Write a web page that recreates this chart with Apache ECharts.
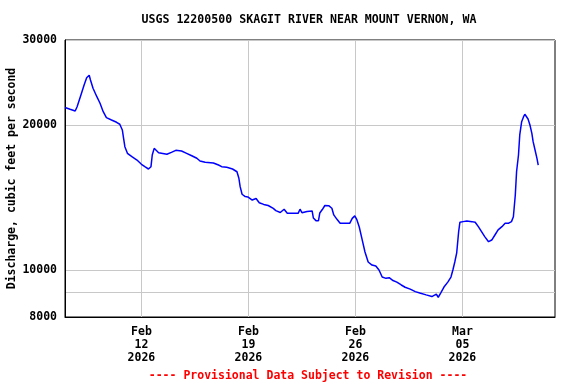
<!DOCTYPE html>
<html>
<head>
<meta charset="utf-8">
<script src="https://cdn.jsdelivr.net/npm/echarts@6/dist/echarts.min.js"></script>
<style>
html,body{margin:0;padding:0;background:#fff;}
#chart{width:576px;height:384px;}
</style>
</head>
<body>
<div id="chart"></div>
<script>
// ---- data ----
var times = [
 '2026-02-07 00:00','2026-02-07 08:00','2026-02-07 16:00','2026-02-07 19:00','2026-02-08 01:00',
 '2026-02-08 06:00','2026-02-08 10:00','2026-02-08 14:00','2026-02-08 16:00','2026-02-08 20:00',
 '2026-02-09 02:00','2026-02-09 07:00','2026-02-09 12:00','2026-02-09 17:00','2026-02-10 01:00',
 '2026-02-10 09:00','2026-02-10 14:00','2026-02-10 18:00','2026-02-10 20:00','2026-02-10 22:00',
 '2026-02-11 02:00','2026-02-11 09:00','2026-02-11 17:00','2026-02-12 00:00','2026-02-12 06:00',
 '2026-02-12 11:00','2026-02-12 15:00','2026-02-12 17:00','2026-02-12 20:00','2026-02-12 23:00',
 '2026-02-13 03:00','2026-02-13 06:00','2026-02-13 16:00','2026-02-13 23:00','2026-02-14 06:00',
 '2026-02-14 15:00','2026-02-14 23:00','2026-02-15 07:00','2026-02-15 15:00','2026-02-15 20:00',
 '2026-02-16 04:00','2026-02-16 17:00','2026-02-17 01:00','2026-02-17 06:00','2026-02-17 14:00',
 '2026-02-17 23:00','2026-02-18 06:00','2026-02-18 09:00','2026-02-18 11:00','2026-02-18 14:00',
 '2026-02-18 19:00','2026-02-18 23:00','2026-02-19 06:00','2026-02-19 12:00','2026-02-19 17:00',
 '2026-02-20 00:00','2026-02-20 07:00','2026-02-20 10:00','2026-02-20 15:00','2026-02-20 19:00',
 '2026-02-21 02:00','2026-02-21 08:00','2026-02-21 13:00','2026-02-22 06:00','2026-02-22 09:00',
 '2026-02-22 12:00','2026-02-22 20:00','2026-02-23 04:00','2026-02-23 06:00','2026-02-23 10:00',
 '2026-02-23 14:00','2026-02-23 16:00','2026-02-23 20:00','2026-02-24 00:00','2026-02-24 06:00',
 '2026-02-24 11:00','2026-02-24 14:00','2026-02-24 19:00','2026-02-25 00:00','2026-02-25 15:00',
 '2026-02-25 19:00','2026-02-25 23:00','2026-02-26 02:00','2026-02-26 06:00','2026-02-26 10:00',
 '2026-02-26 15:00','2026-02-26 20:00','2026-02-27 02:00','2026-02-27 08:00','2026-02-27 13:00',
 '2026-02-27 18:00','2026-02-28 00:00','2026-02-28 05:00','2026-02-28 11:00','2026-02-28 17:00',
 '2026-03-01 00:00','2026-03-01 06:00','2026-03-01 14:00','2026-03-01 22:00','2026-03-02 05:00',
 '2026-03-02 15:00','2026-03-03 00:00','2026-03-03 07:00','2026-03-03 10:00','2026-03-03 14:00',
 '2026-03-03 19:00','2026-03-04 01:00','2026-03-04 06:00','2026-03-04 09:00','2026-03-04 12:00',
 '2026-03-04 15:00','2026-03-04 18:00','2026-03-04 20:00','2026-03-05 01:00','2026-03-05 07:00',
 '2026-03-05 09:00','2026-03-05 15:00','2026-03-05 20:00','2026-03-06 01:00','2026-03-06 06:00',
 '2026-03-06 11:00','2026-03-06 17:00','2026-03-06 22:00','2026-03-07 03:00','2026-03-07 08:00',
 '2026-03-07 14:00','2026-03-07 19:00','2026-03-08 00:00','2026-03-08 05:00','2026-03-08 08:00',
 '2026-03-08 11:00','2026-03-08 13:00','2026-03-08 16:00','2026-03-08 18:00','2026-03-08 21:00',
 '2026-03-09 00:00','2026-03-09 02:00','2026-03-09 05:00','2026-03-09 07:00','2026-03-09 10:00',
 '2026-03-09 13:00','2026-03-09 15:00','2026-03-09 18:00','2026-03-09 21:00','2026-03-09 23:00'
];
var discharge = [
 21740,21550,21380,21820,23080, 24200,25060,25350,24790,23830,
 22890,22180,21310,20710,20480, 20260,20070,19530,18770,18030,
 17470,17190,16920,16580,16370, 16210,16390,17330,17890,17830,
 17520,17390,17390,17550,17720, 17660,17470,17270,17060,16840,
 16740,16680,16520,16390,16340, 16210,16000,15510,14900,14370,
 14210,14190,13980,14080,13800, 13690,13620,13650,13430,13290,
 13170,13380,13120,13120,13380, 13160,13240,13270,12830,12670,
 12670,13140,13360,13620,13610, 13440,13020,12750,12510,12510,
 12810,12960,12750,12290,11660, 10910,10400,10250,10200,10010,
 9680,9620,9650,9520,9450, 9320,9220,9140,9030,8970,
 8890,8820,8920,8790,8980, 9230,9450,9680,10010,10400,
 10860,12000,12570,12610,12650, 12770,12610,12570,12310,12020,
 11740,11460,11550,11830,12120, 12310,12510,12510,12610,12910,
 14320,16000,17330,19070,20320, 20810,21050,20880,20580,20000,
 19220,18470,17750,17060,16520
];
var yLabelValues = [8000, 10000, 20000, 30000];
var yGridValues = [8000, 9000, 10000, 20000, 30000];
var xTickDates = ['2026-02-12 00:00', '2026-02-19 00:00', '2026-02-26 00:00', '2026-03-05 00:00'];
var xTickLabels = ['Feb\n12\n2026', 'Feb\n19\n2026', 'Feb\n26\n2026', 'Mar\n05\n2026'];
var xMin = '2026-02-07 00:00';
var xMax = '2026-03-11 01:20';
var yMin = 8000, yMax = 30000;
var titleText = 'USGS 12200500 SKAGIT RIVER NEAR MOUNT VERNON, WA';
var yName = 'Discharge, cubic feet per second';
var footText = '---- Provisional Data Subject to Revision ----';

function ts(s) { return new Date(s.replace(' ', 'T') + ':00Z').getTime(); }

var FONT = '"DejaVu Sans Mono", "Liberation Mono", monospace';
var seriesData = times.map(function (t, i) { return [ts(t), discharge[i]]; });
var xTickTs = xTickDates.map(ts);
var labelMap = {};
xTickTs.forEach(function (v, i) { labelMap[v] = xTickLabels[i]; });

var chart = echarts.init(document.getElementById('chart'), null, { renderer: 'canvas' });
chart.setOption({
  animation: false,
  backgroundColor: '#ffffff',
  grid: { left: 65, right: 21, top: 40, bottom: 67, outerBoundsMode: 'none', containLabel: false,
          show: true, borderColor: '#000', borderWidth: 1, backgroundColor: '#fff' },
  xAxis: {
    type: 'value',
    min: ts(xMin), max: ts(xMax),
    axisLine: { show: true, lineStyle: { color: '#000', width: 1 } },
    axisTick: { show: false, customValues: xTickTs },
    splitLine: { show: true, lineStyle: { color: '#c8c8c8', width: 1 } },
    axisLabel: {
      customValues: xTickTs,
      formatter: function (v) { return labelMap[v] || ''; },
      fontFamily: FONT, fontWeight: 'bold', fontSize: 11.5, color: '#000',
      lineHeight: 13, margin: 9, hideOverlap: false
    }
  },
  yAxis: {
    type: 'log', logBase: 10,
    min: yMin, max: yMax,
    name: yName, nameLocation: 'middle', nameRotate: 90, nameGap: 47, nameMoveOverlap: false,
    nameTextStyle: { fontFamily: FONT, fontWeight: 'bold', fontSize: 11.5, color: '#000' },
    axisLine: { show: true, lineStyle: { color: '#000', width: 1 } },
    axisTick: { show: false, customValues: yGridValues },
    splitLine: { show: true, lineStyle: { color: '#c8c8c8', width: 1 } },
    axisLabel: {
      customValues: yLabelValues,
      formatter: function (v) { return String(Math.round(v)); },
      fontFamily: FONT, fontWeight: 'bold', fontSize: 11.5, color: '#000', margin: 8
    }
  },
  series: [{
    type: 'line',
    data: seriesData,
    showSymbol: false,
    symbol: 'none',
    lineStyle: { color: '#0000ff', width: 1.5 },
    z: 5
  }],
  graphic: [
    { type: 'text', x: 309, y: 20, style: { text: titleText, align: 'center', verticalAlign: 'middle', font: 'bold 11.6px ' + FONT, fill: '#000' } },
    { type: 'text', x: 308, y: 376, style: { text: footText, align: 'center', verticalAlign: 'middle', font: 'bold 11.5px ' + FONT, fill: '#ff0000' } }
  ]
});
</script>
</body>
</html>
